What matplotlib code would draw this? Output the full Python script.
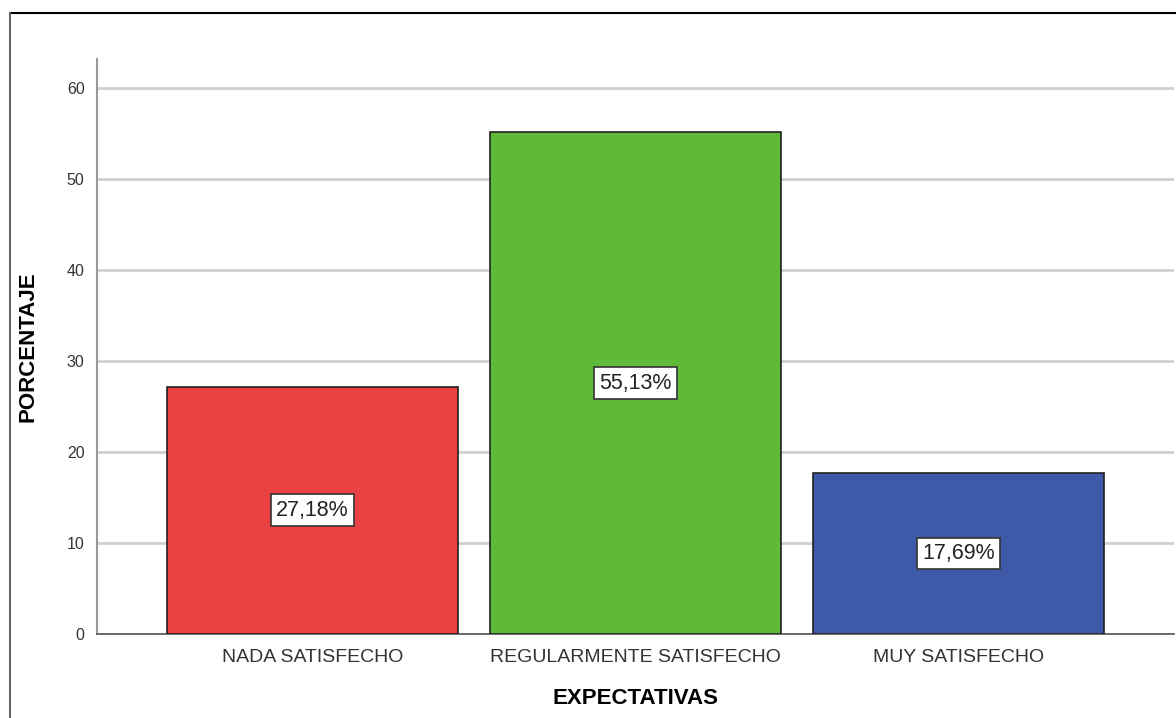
import matplotlib
import matplotlib.pyplot as plt
from matplotlib.lines import Line2D

matplotlib.rcParams["font.family"] = ["Liberation Sans", "DejaVu Sans"]

categories = ["NADA SATISFECHO", "REGULARMENTE SATISFECHO", "MUY SATISFECHO"]
porcentajes = [27.18, 55.13, 17.69]
etiquetas = ["27,18%", "55,13%", "17,69%"]
colores = ["#EA4143", "#5FBA3A", "#3E59A8"]
yticks = [0, 10, 20, 30, 40, 50, 60]

fig = plt.figure(figsize=(11.76, 7.18), dpi=100)
ax = fig.add_axes([97 / 1176, 1 - 634 / 718, 1077 / 1176, 575 / 718])

x = range(len(categories))
ax.bar(x, porcentajes, width=0.9, color=colores, edgecolor="#222222",
       linewidth=1.2, zorder=3)

# etiquetas de porcentaje en el centro de cada barra
for i, (v, lab) in enumerate(zip(porcentajes, etiquetas)):
    ax.text(i, v / 2, lab, ha="center", va="center", fontsize=15.5,
            color="#222222", zorder=4,
            bbox=dict(boxstyle="square,pad=0.25", facecolor="white",
                      edgecolor="#333333", linewidth=1.2))

ax.set_xlim(-0.667, 2.667)
ax.set_ylim(0, 63.2)
ax.set_yticks(yticks)
ax.set_xticks(list(x), categories)
ax.tick_params(axis="y", length=0, labelsize=11.5, labelcolor="#333333", pad=9)
ax.tick_params(axis="x", length=0, labelsize=14, labelcolor="#333333", pad=11)
ax.yaxis.grid(True, color="#D0D0D0", linewidth=2, zorder=0)
ax.set_axisbelow(True)

for s in ["top", "right"]:
    ax.spines[s].set_visible(False)
ax.spines["left"].set_color("#999999")
ax.spines["left"].set_linewidth(1.5)
ax.spines["bottom"].set_color("#555555")
ax.spines["bottom"].set_linewidth(1.2)

ax.set_ylabel("PORCENTAJE", fontsize=16, fontweight="bold", labelpad=20)
ax.set_xlabel("EXPECTATIVAS", fontsize=16, fontweight="bold", labelpad=16)

# marco exterior del gráfico
fig.add_artist(Line2D([10 / 1176, 1], [1 - 13 / 718, 1 - 13 / 718],
                      transform=fig.transFigure, color="black", linewidth=1.5))
fig.add_artist(Line2D([10 / 1176, 10 / 1176], [0, 1 - 13 / 718],
                      transform=fig.transFigure, color="#666666", linewidth=1.5))

fig.savefig("out.png", dpi=100)
